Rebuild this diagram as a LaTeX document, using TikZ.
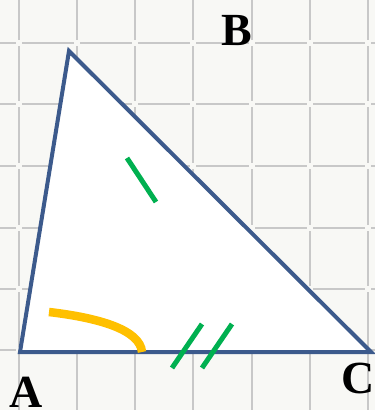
\documentclass[tikz,border=0pt]{standalone}
\usepackage{fontspec}
\setmainfont{Liberation Serif}
\definecolor{bgc}{RGB}{248,248,245}
\definecolor{gridc}{RGB}{200,200,200}
\definecolor{edgec}{RGB}{60,90,140}
\definecolor{tickc}{RGB}{0,176,80}
\definecolor{arcc}{RGB}{255,192,0}
\tikzset{
  gridseg/.style={draw=gridc,line width=2.6pt},
  edge/.style={draw=edgec,line width=4pt,line join=miter},
  tick/.style={draw=tickc,line width=5pt},
  anglearc/.style={draw=arcc,line width=8.5pt},
  vlabel/.style={font=\fontsize{46}{46}\selectfont\bfseries,inner sep=0pt}
}
\begin{document}
\begin{tikzpicture}[x=1pt,y=-1pt]
\useasboundingbox (0,0) rectangle (375,410);
\fill[bgc] (0,0) rectangle (375,410);
% grid with small gaps at crossings
\foreach \gx in {19,77,135,193,252,310,368}{
  \foreach \ya/\yb in {-20/40,46/101,107/163,169/225,231/286,292/347,353/410}{
    \draw[gridseg] (\gx,\ya) -- (\gx,\yb);
  }
}
\foreach \gy in {43,104,166,228,289,350}{
  \foreach \xa/\xb in {-10/16,22/74,80/132,138/190,196/249,255/307,313/365,371/385}{
    \draw[gridseg] (\xa,\gy) -- (\xb,\gy);
  }
}
% triangle
\coordinate (A) at (20,352);
\coordinate (B) at (69,51);
\coordinate (C) at (371,352);
\fill[white] (A) -- (B) -- (C) -- cycle;
\draw[edge] (A) -- (B) -- (C) -- cycle;
% angle mark
\coordinate (a1) at (49,312);
\coordinate (a2) at (142,352);
\draw[anglearc] (a1) .. controls (100,318) and (140,330) .. (a2);
% ticks
\coordinate (t1) at (127,158);
\coordinate (t2) at (156,202);
\draw[tick] (t1) -- (t2);
\coordinate (t3) at (172,368);
\coordinate (t4) at (202,324);
\draw[tick] (t3) -- (t4);
\coordinate (t5) at (202,368);
\coordinate (t6) at (232,324);
\draw[tick] (t5) -- (t6);
% labels
\node[vlabel,anchor=base] (lA) at (26,407) {A};
\node[vlabel,anchor=base] (lB) at (237,45) {B};
\node[vlabel,anchor=base] (lC) at (358,393) {C};
\end{tikzpicture}
\end{document}
